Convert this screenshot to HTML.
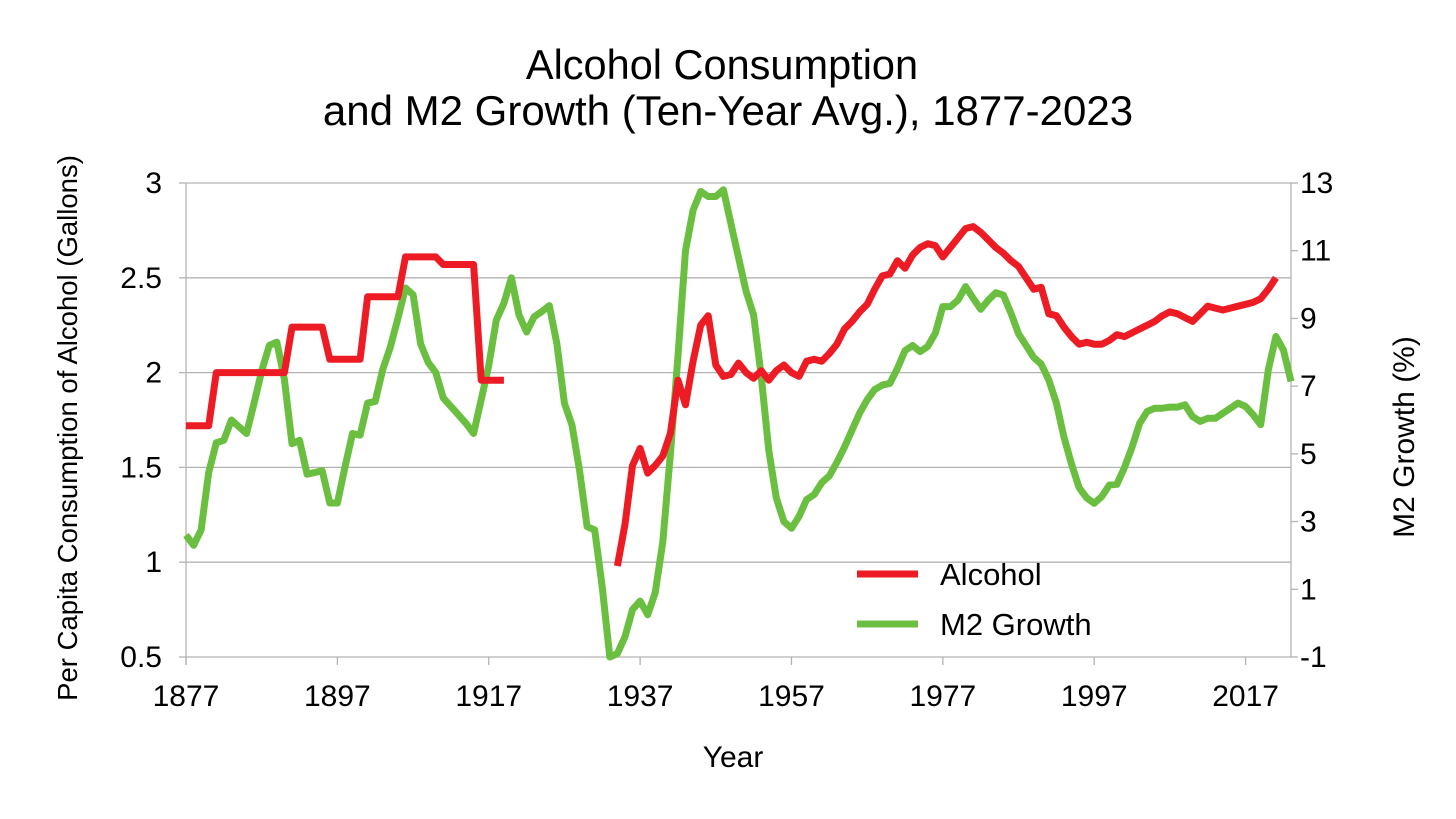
<!DOCTYPE html>
<html><head><meta charset="utf-8"><style>
body{margin:0;background:#fff;}
svg{display:block;font-family:"Liberation Sans",sans-serif;}
</style></head><body>
<svg id="chart" width="1456" height="819">
<text x="722" y="79" text-anchor="middle" font-size="41.5">Alcohol Consumption</text>
<text x="728" y="125" text-anchor="middle" font-size="42">and M2 Growth (Ten-Year Avg.), 1877-2023</text>
<g id="grid"></g><g id="axes"></g><g id="series"></g>
<text x="733" y="767" text-anchor="middle" font-size="30">Year</text>
<text transform="translate(77,428) rotate(-90)" text-anchor="middle" font-size="27.5">Per Capita Consumption of Alcohol (Gallons)</text>
<text transform="translate(1414,437) rotate(-90)" text-anchor="middle" font-size="30">M2 Growth (%)</text>
<g>
<line x1="857" y1="574" x2="918" y2="574" stroke="#ed1c24" stroke-width="7"/>
<text x="940" y="585" font-size="31">Alcohol</text>
<line x1="857" y1="624" x2="918" y2="624" stroke="#6abf40" stroke-width="7"/>
<text x="940" y="635" font-size="31">M2 Growth</text>
</g>
</svg>
<script>
const startYear = 1877;
const xTickLabels = ["1877","1897","1917","1937","1957","1977","1997","2017"];
const leftTicks = [0.5,1,1.5,2,2.5,3];
const rightTicks = [-1,1,3,5,7,9,11,13];
const alcoholValues = [
1.72,1.72,1.72,1.72,2.0,2.0,2.0,2.0,2.0,2.0,2.0,2.0,2.0,2.0,2.24,2.24,2.24,2.24,2.24,2.07,2.07,2.07,2.07,2.07,2.40,2.40,2.40,2.40,2.40,2.61,2.61,2.61,2.61,2.61,2.57,2.57,2.57,2.57,2.57,1.96,1.96,1.96,1.96,
null,null,null,null,null,null,null,null,null,null,null,null,null,null,
0.98,1.2,1.51,1.60,1.47,1.51,1.56,1.68,1.96,1.83,2.06,2.25,2.30,2.04,1.98,1.99,2.05,2.0,1.97,2.01,1.96,2.01,2.04,2.0,1.98,2.06,2.07,2.06,2.10,2.15,2.23,2.27,2.32,2.36,2.44,2.51,2.52,2.59,2.55,2.62,2.66,2.68,2.67,2.61,2.66,2.71,2.76,2.77,2.74,2.70,2.66,2.63,2.59,2.56,2.50,2.44,2.45,2.31,2.30,2.24,2.19,2.15,2.16,2.15,2.15,2.17,2.20,2.19,2.21,2.23,2.25,2.27,2.30,2.32,2.31,2.29,2.27,2.31,2.35,2.34,2.33,2.34,2.35,2.36,2.37,2.39,2.44,2.50];
const m2Values = [
2.6,2.3,2.75,4.45,5.33,5.4,6.0,5.8,5.6,6.5,7.45,8.2,8.3,7.2,5.3,5.4,4.4,4.45,4.5,3.55,3.55,4.6,5.6,5.55,6.5,6.55,7.5,8.15,9.0,9.9,9.7,8.25,7.7,7.4,6.65,6.4,6.15,5.9,5.6,6.6,7.6,8.95,9.45,10.2,9.1,8.6,9.05,9.2,9.38,8.25,6.5,5.85,4.5,2.85,2.75,1.05,-1.0,-0.9,-0.4,0.4,0.65,0.25,0.9,2.4,5.0,7.9,11.0,12.2,12.75,12.6,12.6,12.8,11.8,10.8,9.8,9.1,7.3,5.1,3.7,3.0,2.8,3.15,3.65,3.8,4.15,4.35,4.75,5.2,5.7,6.2,6.6,6.9,7.03,7.08,7.52,8.05,8.2,8.02,8.17,8.56,9.35,9.35,9.54,9.94,9.6,9.27,9.54,9.76,9.69,9.15,8.55,8.2,7.85,7.65,7.18,6.5,5.5,4.7,4.0,3.7,3.54,3.74,4.08,4.1,4.6,5.2,5.9,6.25,6.35,6.35,6.38,6.38,6.45,6.1,5.96,6.05,6.05,6.2,6.35,6.5,6.4,6.15,5.86,7.48,8.47,8.07,7.14];

const NS="http://www.w3.org/2000/svg";
const X0=186, X1=1291, Y0=183, Y1=657;
const xs = y => X0 + (y-startYear)*(X1-X0)/146;
const yl = v => Y1 - (v-0.5)*(Y1-Y0)/2.5;
const yr = v => Y1 - (v+1)*(Y1-Y0)/14;
function mk(tag, attrs, parent){const e=document.createElementNS(NS,tag);for(const k in attrs)e.setAttribute(k,attrs[k]);document.getElementById(parent).appendChild(e);return e;}

leftTicks.forEach(v=>{
  const g=mk('line',{x1:X0,x2:X1,y1:yl(v),y2:yl(v),stroke:'#b3b3b3','stroke-width':1.3},'grid');
  
  
  const tk=mk('line',{x1:X0-7,x2:X0,y1:yl(v),y2:yl(v),stroke:'#b3b3b3','stroke-width':1.3},'axes');
  
  
  const t=mk('text',{x:162,y:yl(v)+10,'text-anchor':'end','font-size':30},'axes');
  t.textContent=String(v);
  
  
});
rightTicks.forEach(v=>{
  const tk=mk('line',{x1:X1,x2:X1+7,y1:yr(v),y2:yr(v),stroke:'#b3b3b3','stroke-width':1.3},'axes');
  
  
  const t=mk('text',{x:1300,y:yr(v)+10,'font-size':30},'axes');
  t.textContent=String(v);
  
  
});
let a=mk('line',{x1:X0,x2:X0,y1:Y0,y2:Y1+8,stroke:'#b3b3b3','stroke-width':1.3},'axes');


a=mk('line',{x1:X1,x2:X1,y1:Y0,y2:Y1,stroke:'#b3b3b3','stroke-width':1.3},'axes');


xTickLabels.forEach(l=>{
  const x=xs(+l);
  const tk=mk('line',{x1:x,x2:x,y1:Y1,y2:Y1+8,stroke:'#b3b3b3','stroke-width':1.3},'axes');
  
  
  const t=mk('text',{x:x,y:706,'text-anchor':'middle','font-size':30},'axes');
  t.textContent=l;
  
  
});
function pathFor(vals, sc){
  let d='', pen=false;
  vals.forEach((v,i)=>{
    if(v===null){pen=false;return;}
    d+=(pen?'L':'M')+xs(startYear+i).toFixed(1)+','+sc(v).toFixed(1);
    pen=true;
  });
  return d;
}
const gp=mk('path',{d:pathFor(m2Values,yr),fill:'none',stroke:'#6abf40','stroke-width':7,'stroke-linejoin':'round'},'series');


const rp=mk('path',{d:pathFor(alcoholValues,yl),fill:'none',stroke:'#ed1c24','stroke-width':7,'stroke-linejoin':'round'},'series');


</script>
</body></html>
